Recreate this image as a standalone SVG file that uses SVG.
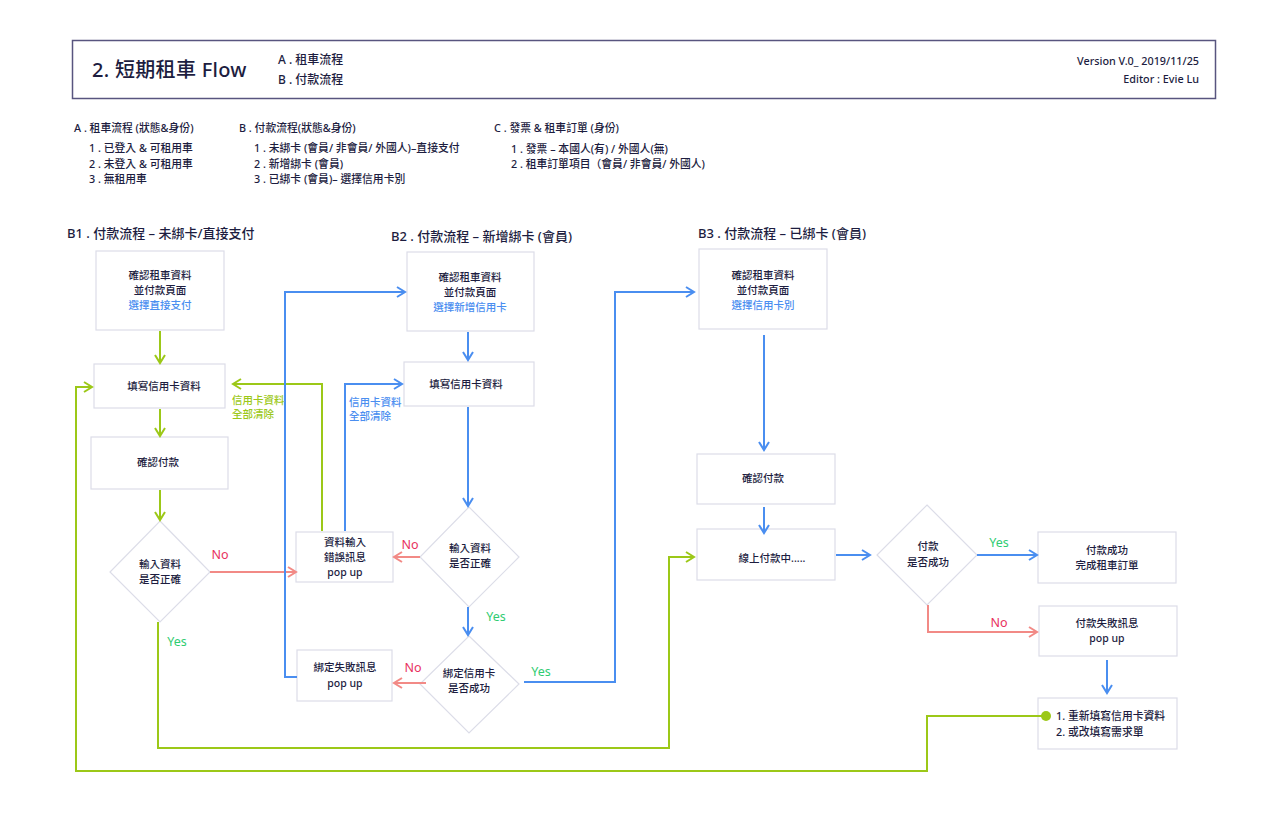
<svg xmlns="http://www.w3.org/2000/svg" width="1280" height="813" viewBox="0 0 1280 813">
  <style>
    text { font-family: "Noto Sans", "Noto Sans CJK TC", sans-serif; fill: #1d1d3f; }
    .t { font-size: 10.5px; font-weight: 500; text-anchor: middle; }
    .tl { font-size: 10.8px; font-weight: 500; }
    .sec { font-size: 13px; font-weight: 500; }
    .blue { fill: #4a8ef0; }
    .lgreen { fill: #9cc818; font-size: 10.5px; font-weight: 500; }
    .lblue { fill: #4a8ef0; font-size: 10.5px; font-weight: 500; }
    .no { fill: #e8325e; font-size: 12.5px; text-anchor: middle; }
    .yes { fill: #2fcc71; font-size: 12.5px; text-anchor: middle; }
    .box { fill: #ffffff; stroke: #dcdde8; stroke-width: 1.2; }
    .g { fill: none; stroke: #9cc818; stroke-width: 2; }
    .b { fill: none; stroke: #4a8ef0; stroke-width: 2; }
    .r { fill: none; stroke: #f28a86; stroke-width: 2; }
  </style>
  <defs>
    <marker id="ag" viewBox="0 0 12 12" refX="10" refY="6" markerWidth="12" markerHeight="12" markerUnits="userSpaceOnUse" orient="auto">
      <path d="M2,1 L10,6 L2,11" fill="none" stroke="#9cc818" stroke-width="2"/>
    </marker>
    <marker id="ab" viewBox="0 0 12 12" refX="10" refY="6" markerWidth="12" markerHeight="12" markerUnits="userSpaceOnUse" orient="auto">
      <path d="M2,1 L10,6 L2,11" fill="none" stroke="#4a8ef0" stroke-width="2"/>
    </marker>
    <marker id="ar" viewBox="0 0 12 12" refX="10" refY="6" markerWidth="12" markerHeight="12" markerUnits="userSpaceOnUse" orient="auto">
      <path d="M2,1 L10,6 L2,11" fill="none" stroke="#f28a86" stroke-width="2"/>
    </marker>
  </defs>

  <rect width="1280" height="813" fill="#ffffff"/>

  <!-- header -->
  <g id="header">
    <rect x="72.5" y="40.5" width="1143" height="58" fill="none" stroke="#58557f" stroke-width="1.5"/>
    <text x="92" y="77" style="font-size:20px;font-weight:500;letter-spacing:0.3px">2. 短期租車 Flow</text>
    <text x="278" y="64" style="font-size:12px;font-weight:500">A . 租車流程</text>
    <text x="278" y="84" style="font-size:12px;font-weight:500">B . 付款流程</text>
    <text x="1199" y="65" style="font-size:10.8px;font-weight:500;text-anchor:end">Version V.0_ 2019/11/25</text>
    <text x="1199" y="83" style="font-size:10.8px;font-weight:500;text-anchor:end">Editor : Evie Lu</text>
  </g>

  <!-- legend -->
  <g id="legend">
    <text class="tl" x="74" y="132">A . 租車流程 (狀態&amp;身份)</text>
    <text class="tl" x="89" y="152">1 . 已登入 &amp; 可租用車</text>
    <text class="tl" x="89" y="168">2 . 未登入 &amp; 可租用車</text>
    <text class="tl" x="89" y="183">3 . 無租用車</text>
    <text class="tl" x="239" y="132">B . 付款流程(狀態&amp;身份)</text>
    <text class="tl" x="254" y="152">1 . 未綁卡 (會員/ 非會員/ 外國人)–直接支付</text>
    <text class="tl" x="254" y="168">2 . 新增綁卡 (會員)</text>
    <text class="tl" x="254" y="183">3 . 已綁卡 (會員)– 選擇信用卡別</text>
    <text class="tl" x="494" y="132">C . 發票 &amp; 租車訂單 (身份)</text>
    <text class="tl" x="511" y="153">1 . 發票 – 本國人(有) / 外國人(無)</text>
    <text class="tl" x="511" y="168">2 . 租車訂單項目（會員/ 非會員/ 外國人)</text>
  </g>

  <!-- section titles -->
  <g id="titles">
    <text class="sec" x="67" y="238">B1 . 付款流程 – 未綁卡/直接支付</text>
    <text class="sec" x="391" y="241">B2 . 付款流程 – 新增綁卡 (會員)</text>
    <text class="sec" x="698" y="238">B3 . 付款流程 – 已綁卡 (會員)</text>
  </g>

  <!-- B1 nodes -->
  <g id="b1-confirm">
    <rect class="box" x="96" y="251" width="128" height="79"/>
    <text class="t" x="160" y="279">確認租車資料</text>
    <text class="t" x="160" y="294">並付款頁面</text>
    <text class="t blue" x="160" y="309">選擇直接支付</text>
  </g>
  <g id="b1-fill">
    <rect class="box" x="94" y="364" width="131" height="44"/>
    <text class="t" x="164" y="390">填寫信用卡資料</text>
  </g>
  <g id="b1-pay">
    <rect class="box" x="91" y="437" width="137" height="52"/>
    <text class="t" x="158" y="466">確認付款</text>
  </g>
  <g id="b1-check">
    <polygon class="box" points="160,521 210,572 160,622 110,572"/>
    <text class="t" x="160" y="568">輸入資料</text>
    <text class="t" x="160" y="583">是否正確</text>
  </g>
  <g id="input-error">
    <rect class="box" x="296" y="532" width="97" height="50"/>
    <text class="t" x="345" y="546">資料輸入</text>
    <text class="t" x="345" y="561">錯誤訊息</text>
    <text class="t" x="345" y="576">pop up</text>
  </g>
  <g id="bind-error">
    <rect class="box" x="297" y="650" width="95" height="51"/>
    <text class="t" x="345" y="671">綁定失敗訊息</text>
    <text class="t" x="345" y="687">pop up</text>
  </g>

  <!-- B2 nodes -->
  <g id="b2-confirm">
    <rect class="box" x="407" y="252" width="127" height="79"/>
    <text class="t" x="470" y="281">確認租車資料</text>
    <text class="t" x="470" y="296">並付款頁面</text>
    <text class="t blue" x="470" y="311">選擇新增信用卡</text>
  </g>
  <g id="b2-fill">
    <rect class="box" x="404" y="362" width="130" height="44"/>
    <text class="t" x="466" y="388">填寫信用卡資料</text>
  </g>
  <g id="b2-check">
    <polygon class="box" points="469,507 519,557 469,607 420,557"/>
    <text class="t" x="470" y="552">輸入資料</text>
    <text class="t" x="470" y="567">是否正確</text>
  </g>
  <g id="b2-bind">
    <polygon class="box" points="469,636 519,684 469,733 420,684"/>
    <text class="t" x="469" y="677">綁定信用卡</text>
    <text class="t" x="469" y="692">是否成功</text>
  </g>

  <!-- B3 nodes -->
  <g id="b3-confirm">
    <rect class="box" x="699" y="249" width="128" height="80"/>
    <text class="t" x="763" y="279">確認租車資料</text>
    <text class="t" x="763" y="294">並付款頁面</text>
    <text class="t blue" x="763" y="309">選擇信用卡別</text>
  </g>
  <g id="b3-pay">
    <rect class="box" x="697" y="454" width="138" height="50"/>
    <text class="t" x="763" y="482">確認付款</text>
  </g>
  <g id="b3-paying">
    <rect class="box" x="697" y="529" width="138" height="51"/>
    <text class="t" x="772" y="562">線上付款中.....</text>
  </g>
  <g id="b3-check">
    <polygon class="box" points="927,505 977,555 927,605 877,555"/>
    <text class="t" x="928" y="550">付款</text>
    <text class="t" x="928" y="566">是否成功</text>
  </g>
  <g id="pay-success">
    <rect class="box" x="1038" y="532" width="138" height="51"/>
    <text class="t" x="1107" y="554">付款成功</text>
    <text class="t" x="1107" y="569">完成租車訂單</text>
  </g>
  <g id="pay-fail">
    <rect class="box" x="1039" y="606" width="138" height="50"/>
    <text class="t" x="1107" y="627">付款失敗訊息</text>
    <text class="t" x="1107" y="642">pop up</text>
  </g>
  <g id="retry">
    <rect class="box" x="1038" y="698" width="139" height="51"/>
    <text class="tl" x="1056" y="720">1. 重新填寫信用卡資料</text>
    <text class="tl" x="1056" y="736">2. 或改填寫需求單</text>
  </g>

  <!-- connectors (drawn over the nodes so endpoints stay visible) -->
  <g id="connectors">
    <!-- B1 -->
    <path class="g" d="M160,331 V363" marker-end="url(#ag)"/>
    <path class="g" d="M160,409 V436" marker-end="url(#ag)"/>
    <path class="g" d="M160,490 V520" marker-end="url(#ag)"/>
    <path class="r" d="M210,572 H296" marker-end="url(#ar)"/>
    <path class="g" d="M158,622 V748 H669 V557 H694" marker-end="url(#ag)"/>
    <path class="g" d="M322,531 V384 H233" marker-end="url(#ag)"/>
    <path class="b" d="M345,531 V384 H402" marker-end="url(#ab)"/>
    <path class="b" d="M297,677 H285 V292 H405" marker-end="url(#ab)"/>
    <path class="g" d="M1046,716 H927 V771 H76 V387 H92" marker-end="url(#ag)"/>
    <!-- B2 -->
    <path class="b" d="M468,332 V360" marker-end="url(#ab)"/>
    <path class="b" d="M468,407 V506" marker-end="url(#ab)"/>
    <path class="r" d="M420,557 H394" marker-end="url(#ar)"/>
    <path class="b" d="M468,607 V635" marker-end="url(#ab)"/>
    <path class="r" d="M426,683 H394" marker-end="url(#ar)"/>
    <path class="b" d="M524,682 H615 V292 H694" marker-end="url(#ab)"/>
    <!-- B3 -->
    <path class="b" d="M764,335 V450" marker-end="url(#ab)"/>
    <path class="b" d="M764,507 V533" marker-end="url(#ab)"/>
    <path class="b" d="M836,555 H870" marker-end="url(#ab)"/>
    <path class="b" d="M977,555 H1037" marker-end="url(#ab)"/>
    <path class="r" d="M928,605 V632 H1037" marker-end="url(#ar)"/>
    <path class="b" d="M1107,660 V693" marker-end="url(#ab)"/>
    <circle cx="1046" cy="716" r="5" fill="#9cc818"/>
  </g>

  <!-- connector labels -->
  <g id="labels">
    <text class="no" x="220" y="559">No</text>
    <text class="yes" x="177" y="646">Yes</text>
    <text class="lgreen" x="232" y="404">信用卡資料</text>
    <text class="lgreen" x="232" y="418">全部清除</text>
    <text class="lblue" x="349" y="406">信用卡資料</text>
    <text class="lblue" x="349" y="420">全部清除</text>
    <text class="no" x="410" y="549">No</text>
    <text class="yes" x="496" y="621">Yes</text>
    <text class="no" x="413" y="672">No</text>
    <text class="yes" x="541" y="676">Yes</text>
    <text class="yes" x="999" y="547">Yes</text>
    <text class="no" x="999" y="627">No</text>
  </g>
</svg>
